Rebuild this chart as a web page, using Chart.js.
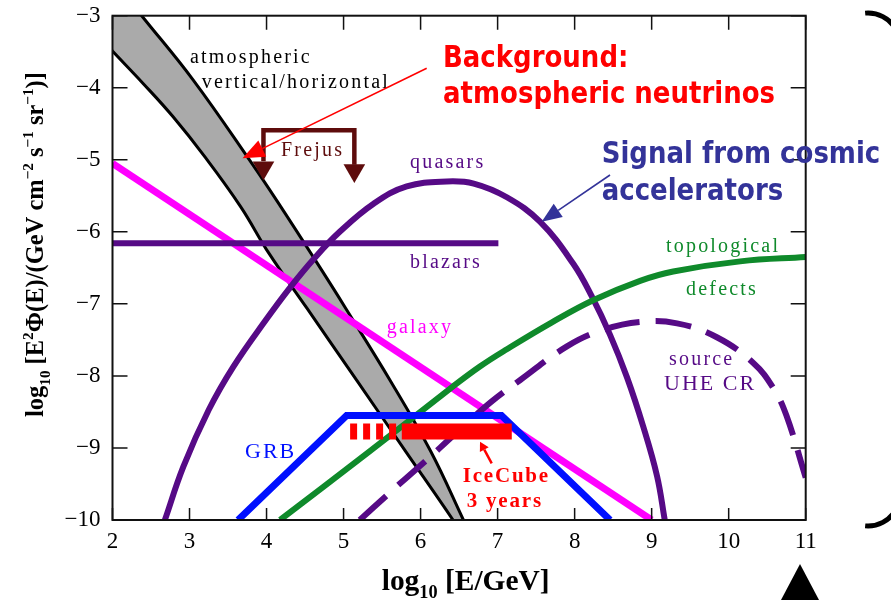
<!DOCTYPE html>
<html>
<head>
<meta charset="utf-8">
<title>Neutrino flux: background and signal</title>
<script src="https://cdn.jsdelivr.net/npm/chart.js@4.4.1/dist/chart.umd.min.js"></script>
<style>
    html, body { margin: 0; padding: 0; background: #fff; }
    #wrap { width: 891px; height: 600px; }
</style>
</head>
<body>
<div id="wrap"><canvas id="fluxChart" width="891" height="600"></canvas></div>
<script>
// --- DATA (log10 E/GeV vs log10 E^2 Phi) ---
const X_TICKS = [2, 3, 4, 5, 6, 7, 8, 9, 10, 11];
const Y_TICKS = [-10, -9, -8, -7, -6, -5, -4, -3];

// atmospheric band, right (vertical) and left (horizontal) edges
const atmUpperX = [2.0, 2.379, 3.046, 3.809, 4.184, 4.631, 5.027, 5.609, 6.133, 6.556, 6.73];
const atmUpperY = [-2.49, -3.0, -3.89, -5.05, -5.65, -6.39, -7.06, -8.07, -9.05, -10.0, -10.4];
const atmLowerX = [1.6, 1.99, 2.397, 2.784, 3.20, 3.663, 4.032, 4.524, 5.176, 5.808, 6.421, 6.66];
const atmLowerY = [-3.03, -3.48, -3.94, -4.40, -4.96, -5.65, -6.30, -7.06, -8.07, -9.05, -10.0, -10.4];

const galaxyX = [2.0, 9.0];
const galaxyY = [-5.05, -10.0];

const blazarX = [2.0, 7.01];
const blazarY = [-6.16, -6.16];

const quasarX = [2.68, 2.92, 3.25, 3.57, 4.0, 4.30, 4.61, 4.95, 5.39, 5.82, 6.34,
                 6.69, 7.12, 7.55, 7.98, 8.22, 8.46, 8.68, 8.89, 9.07, 9.17];
const quasarY = [-10.0, -9.26, -8.47, -7.87, -7.21, -6.78, -6.38, -6.00, -5.61, -5.37, -5.30,
                 -5.33, -5.52, -5.86, -6.44, -6.89, -7.43, -8.02, -8.70, -9.39, -10.0];

const topoX = [4.175, 5.3, 6.38, 6.77, 7.12, 7.7, 8.24, 8.85, 9.28, 10.15, 11.0];
const topoY = [-10.0, -9.08, -8.18, -7.87, -7.63, -7.26, -6.95, -6.68, -6.55, -6.41, -6.35];

const uheX = [5.21, 5.58, 5.80, 6.16, 6.34, 6.68, 6.94, 7.29, 7.90, 8.37, 8.85, 9.33, 9.84, 10.32, 10.58, 10.75, 11.0];
const uheY = [-10.0, -9.64, -9.43, -9.09, -8.91, -8.58, -8.34, -8.06, -7.59, -7.36, -7.25, -7.27, -7.46, -7.82, -8.17, -8.55, -9.41];

const grbX = [3.63, 5.04, 7.05, 8.46];
const grbY = [-10.0, -8.55, -8.55, -10.0];

const iceDashX = [5.085, 5.69];
const iceSolidX = [5.756, 7.184];
const iceY = -8.77;

const frejusX = [3.96, 3.96, 5.14, 5.14];
const frejusY = [-5.02, -4.59, -4.59, -5.07];
const frejusTipX = [3.96, 5.14];
const frejusTipY = [-5.11, -5.15];

// --- COLOURS ---
const PURPLE = '#560a86';
const GREEN = '#0f8a2b';
const BLUE = '#0010ff';
const PINK = '#ff00ff';
const RED = '#ff0000';
const FREJUS = '#5e0c0c';
const SIGNAL = '#333399';
const BAND = '#aaaaaa';

const pts = (xs, ys) => xs.map((x, i) => ({ x, y: Array.isArray(ys) ? ys[i] : ys }));

function lineSet(xs, ys, color, width, order, extra) {
    return Object.assign({
        data: pts(xs, ys),
        showLine: true,
        borderColor: color,
        borderWidth: width,
        pointRadius: 0,
        fill: false,
        tension: 0,
        clip: 0,
        order: order
    }, extra || {});
}

const bandShape = pts(atmUpperX, atmUpperY).concat(pts(atmLowerX, atmLowerY).reverse());
const SMOOTH = { tension: 0.4 };

const datasets = [
    { data: bandShape, showLine: true, borderWidth: 0, borderColor: 'rgba(0,0,0,0)', backgroundColor: BAND,
      fill: 'shape', pointRadius: 0, tension: 0.4, clip: 0, order: 20 },
    lineSet(atmUpperX, atmUpperY, '#000', 3, 19, SMOOTH),
    lineSet(atmLowerX, atmLowerY, '#000', 3, 19, SMOOTH),
    lineSet(galaxyX, galaxyY, PINK, 7, 15),
    lineSet(blazarX, blazarY, PURPLE, 6, 14),
    lineSet(quasarX, quasarY, PURPLE, 6, 13, SMOOTH),
    lineSet(topoX, topoY, GREEN, 6, 12, SMOOTH),
    lineSet(uheX, uheY, PURPLE, 6, 11, { tension: 0.4, borderDash: [36, 16] }),
    lineSet(grbX, grbY, BLUE, 7, 10),
    lineSet(iceDashX, iceY, RED, 16, 9, { borderDash: [7, 6] }),
    lineSet(iceSolidX, iceY, RED, 16, 9),
    lineSet(frejusX, frejusY, FREJUS, 4.5, 8),
    { data: pts(frejusTipX, frejusTipY), showLine: false, pointStyle: 'triangle', rotation: 180,
      pointRadius: 12.5, pointBackgroundColor: FREJUS, pointBorderWidth: 0, order: 7 }
];

// --- TEXT HELPERS ---
function richWidth(ctx, parts, size, weight) {
    let w = 0;
    parts.forEach(([t, k]) => {
        ctx.font = `${weight} ${k ? size * 0.62 : size}px "Liberation Serif"`;
        w += ctx.measureText(t).width;
    });
    return w;
}

function drawRich(ctx, parts, x, y, size, weight) {
    let cx = x;
    parts.forEach(([t, k]) => {
        ctx.font = `${weight} ${k ? size * 0.62 : size}px "Liberation Serif"`;
        const dy = k === 1 ? size * 0.28 : k === 2 ? -size * 0.42 : 0;
        ctx.fillText(t, cx, y + dy);
        cx += ctx.measureText(t).width;
    });
}

function arrow(ctx, x0, y0, x1, y1, color, width, headLen, headHalf) {
    const ang = Math.atan2(y1 - y0, x1 - x0);
    const bx = x1 - Math.cos(ang) * headLen, by = y1 - Math.sin(ang) * headLen;
    ctx.strokeStyle = color;
    ctx.fillStyle = color;
    ctx.lineWidth = width;
    ctx.beginPath();
    ctx.moveTo(x0, y0);
    ctx.lineTo(bx, by);
    ctx.stroke();
    ctx.beginPath();
    ctx.moveTo(x1, y1);
    ctx.lineTo(bx + Math.sin(ang) * headHalf, by - Math.cos(ang) * headHalf);
    ctx.lineTo(bx - Math.sin(ang) * headHalf, by + Math.cos(ang) * headHalf);
    ctx.closePath();
    ctx.fill();
}

const serifLabels = [
    { t: 'atmospheric', x: 190, y: 63, c: '#000' },
    { t: 'vertical/horizontal', x: 201.7, y: 87.5, c: '#000' },
    { t: 'Frejus', x: 281, y: 156, c: FREJUS },
    { t: 'quasars', x: 410, y: 168, c: PURPLE },
    { t: 'blazars', x: 410, y: 268, c: PURPLE },
    { t: 'topological', x: 666, y: 252, c: GREEN },
    { t: 'defects', x: 686, y: 295, c: GREEN },
    { t: 'galaxy', x: 386.7, y: 333, c: PINK },
    { t: 'source', x: 669, y: 365, c: PURPLE },
    { t: 'UHE CR', x: 664, y: 390, c: PURPLE, size: 22, sp: 2 },
    { t: 'GRB', x: 245, y: 458, c: BLUE, size: 22, sp: 2 },
    { t: 'IceCube', x: 462.7, y: 481.7, c: RED, size: 21, sp: 1.8, bold: true },
    { t: '3 years', x: 466.7, y: 506.7, c: RED, size: 21, sp: 1.8, bold: true }
];

const comicLabels = [
    { t: 'Background:', x: 443, y: 67, c: RED },
    { t: 'atmospheric neutrinos', x: 443, y: 103, c: RED },
    { t: 'Signal from cosmic', x: 601.7, y: 163, c: SIGNAL },
    { t: 'accelerators', x: 601.7, y: 200, c: SIGNAL }
];

// --- PLUGIN: frame, inward ticks, titles, notes ---
const decorPlugin = {
    id: 'decor',
    afterDraw(chart) {
        const { ctx, chartArea: a, scales: { x, y } } = chart;
        ctx.save();

        // frame and ticks pointing inwards
        ctx.strokeStyle = '#111';
        ctx.lineWidth = 2;
        ctx.strokeRect(a.left, a.top, a.right - a.left, a.bottom - a.top);
        ctx.lineWidth = 1.5;
        ctx.beginPath();
        X_TICKS.forEach(v => {
            const px = x.getPixelForValue(v);
            ctx.moveTo(px, a.bottom); ctx.lineTo(px, a.bottom - 12);
            ctx.moveTo(px, a.top); ctx.lineTo(px, a.top + 14);
        });
        Y_TICKS.forEach(v => {
            const py = y.getPixelForValue(v);
            ctx.moveTo(a.left, py); ctx.lineTo(a.left + 15, py);
            ctx.moveTo(a.right, py); ctx.lineTo(a.right - 15, py);
        });
        ctx.stroke();

        // axis titles
        ctx.fillStyle = '#000';
        ctx.textBaseline = 'alphabetic';
        ctx.textAlign = 'left';
        const yTitle = [['log', 0], ['10', 1], [' [E', 0], ['2', 2], ['\u03A6(E)/(GeV cm', 0], ['\u22122', 2],
            [' s', 0], ['\u22121', 2], [' sr', 0], ['\u22121', 2], [')]', 0]];
        let size = 24;
        size = size * 345 / richWidth(ctx, yTitle, size, 'bold');
        ctx.save();
        ctx.translate(43, 417);
        ctx.rotate(-Math.PI / 2);
        drawRich(ctx, yTitle, 0, 0, size, 'bold');
        ctx.restore();

        const xTitle = [['log', 0], ['10', 1], [' [E/GeV]', 0]];
        size = 27;
        size = size * 168 / richWidth(ctx, xTitle, size, 'bold');
        drawRich(ctx, xTitle, 381.7, 590, size, 'bold');

        // curve labels
        serifLabels.forEach(l => {
            ctx.letterSpacing = (l.sp || 2.2) + 'px';
            ctx.font = `${l.bold ? 'bold ' : ''}${l.size || 20}px "Liberation Serif"`;
            ctx.fillStyle = l.c;
            ctx.fillText(l.t, l.x, l.y);
        });
        ctx.letterSpacing = '0px';

        // callout texts, slightly stretched like the hand-style font
        comicLabels.forEach(l => {
            ctx.save();
            ctx.translate(l.x, l.y);
            ctx.scale(1, 1.15);
            ctx.font = 'bold 26px "DejaVu Sans"';
            ctx.fillStyle = l.c;
            ctx.fillText(l.t, 0, 0);
            ctx.restore();
        });

        arrow(ctx, 426.7, 68.3, 242.5, 158.3, RED, 1.6, 22, 9);
        arrow(ctx, 610, 175, 541.7, 221.7, SIGNAL, 1.6, 20, 8);
        arrow(ctx, 491.7, 463.3, 480, 441.7, RED, 2.5, 9, 5);

        // slide decorations: bracket corners and pointer
        ctx.strokeStyle = '#000';
        ctx.lineWidth = 5;
        ctx.beginPath();
        ctx.arc(868, 45, 32, -1.66, -0.52);
        ctx.stroke();
        ctx.beginPath();
        ctx.arc(868, 494, 32, 0.52, 1.66);
        ctx.stroke();
        ctx.fillStyle = '#000';
        ctx.beginPath();
        ctx.moveTo(800, 564);
        ctx.lineTo(819, 600);
        ctx.lineTo(781, 600);
        ctx.closePath();
        ctx.fill();

        ctx.restore();
    }
};

// --- CHART ---
const tickFont = { family: 'Liberation Serif', size: 23 };

new Chart(document.getElementById('fluxChart').getContext('2d'), {
    type: 'scatter',
    data: { datasets },
    options: {
        responsive: false,
        animation: false,
        events: [],
        layout: { padding: { top: 15.7, right: 85.3, left: 0, bottom: 0 } },
        elements: { point: { radius: 0 }, line: { capBezierPoints: false } },
        plugins: { legend: { display: false }, tooltip: { enabled: false } },
        scales: {
            x: {
                type: 'linear', min: 2, max: 11,
                ticks: { stepSize: 1, color: '#000', font: tickFont, padding: 8, maxRotation: 0, autoSkip: false },
                grid: { display: false, drawTicks: false },
                border: { display: false },
                afterFit: s => { s.height = 80; s.paddingLeft = 0; s.paddingRight = 0; }
            },
            y: {
                type: 'linear', min: -10, max: -3,
                ticks: { stepSize: 1, color: '#000', font: tickFont, padding: 12,
                         callback: v => String(v).replace('-', '\u2212') },
                grid: { display: false, drawTicks: false },
                border: { display: false },
                afterFit: s => { s.width = 112.5; s.paddingTop = 0; s.paddingBottom = 0; }
            }
        }
    },
    plugins: [decorPlugin]
});
</script>
</body>
</html>
